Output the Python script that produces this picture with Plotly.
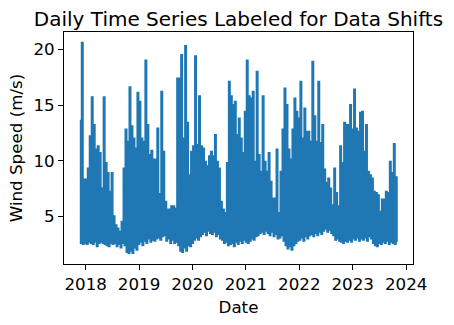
import pandas as pd
import plotly.graph_objects as go

# Per-block (about 13.6 days each) upper and lower readings of the daily wind speed
block_high = [13.6, 20.6, 8.3, 8.3, 9.3, 12.2, 15.7, 13.2, 11.0, 11.3,
              10.7, 7.5, 15.7, 9.8, 8.9, 7.2, 8.9, 5.0, 4.2, 3.9,
              3.6, 4.5, 9.3, 12.8, 11.7, 16.6, 13.1, 12.0, 11.1, 16.1,
              15.3, 12.0, 11.7, 19.0, 13.2, 10.5, 10.9, 10.1, 10.1, 12.9,
              7.0, 16.2, 10.8, 6.3, 5.6, 5.6, 5.9, 5.9, 5.7, 17.4,
              17.4, 19.5, 12.0, 20.3, 13.4, 8.7, 10.8, 11.3, 19.4, 11.4,
              15.8, 11.3, 11.1, 9.9, 9.5, 10.4, 10.8, 10.4, 12.3, 9.9,
              9.3, 6.3, 5.6, 5.3, 9.8, 17.1, 15.8, 15.0, 15.3, 12.3,
              13.8, 12.0, 10.7, 14.4, 19.0, 15.8, 15.6, 16.2, 9.9, 18.0,
              10.5, 9.0, 15.8, 9.9, 9.0, 10.7, 8.1, 6.6, 6.6, 11.0,
              5.3, 9.0, 12.8, 16.5, 15.0, 11.0, 10.1, 12.8, 15.6, 14.4,
              13.8, 17.1, 12.0, 14.7, 12.6, 12.6, 11.7, 18.9, 14.0, 11.7,
              17.1, 11.6, 13.2, 9.2, 8.0, 8.4, 7.5, 6.0, 9.3, 7.1,
              5.9, 11.3, 9.8, 13.4, 13.2, 13.2, 15.0, 12.8, 16.4, 12.9,
              12.6, 14.3, 14.4, 10.8, 13.2, 9.0, 8.7, 8.4, 7.2, 7.1,
              6.9, 5.4, 6.5, 6.5, 7.2, 7.1, 9.9, 8.9, 11.5, 8.5]

block_low = [2.6, 2.5, 2.6, 2.5, 2.7, 2.6, 2.5, 2.7, 2.3, 2.6, 2.7, 2.6, 2.5, 2.4, 2.3,
             2.6, 2.5, 2.6, 2.3, 2.5, 2.2, 2.6,
             2.4, 1.8, 1.7, 1.9, 1.7, 2.2, 2.0,
             2.5, 2.7, 2.4, 2.8, 2.6, 3.0, 2.7, 2.9, 2.8,
             3.0, 3.1, 2.9, 3.2, 3.3, 2.8, 3.0, 2.6, 2.9, 2.6, 2.7,
             2.4, 1.9, 1.8, 2.2, 1.9, 2.4,
             2.3, 2.6, 2.9, 3.1, 2.9, 3.2,
             3.4, 3.6, 3.3, 3.7, 3.5, 3.4, 3.6, 3.2, 3.4, 3.0,
             2.9, 2.6, 2.7, 2.4, 2.5, 2.6, 2.3, 2.7, 2.5, 2.8, 2.6, 2.9, 2.7,
             2.6, 2.8, 3.0, 2.9, 3.2, 3.3, 3.5,
             3.6, 3.4, 3.7, 3.5, 3.3, 3.6, 3.2, 3.4, 3.0, 3.1, 3.3,
             2.8, 2.4, 2.1, 2.3, 2.0, 2.4, 2.6, 2.8,
             2.9, 3.1, 2.8, 3.2, 3.0, 3.3, 3.4, 3.2, 3.5, 3.3, 3.6, 3.4,
             3.7, 3.9, 3.6, 3.8, 3.5, 3.3, 2.9, 3.0, 2.8,
             2.7, 2.6, 2.8, 2.7, 2.9, 2.7, 3.0,
             2.9, 3.1, 2.8, 3.0, 2.9, 3.1, 2.8, 3.2, 3.0,
             2.6, 2.4, 2.3, 2.6, 2.5,
             2.7, 2.6, 2.8, 2.5, 2.7, 2.6, 2.5, 2.7]

start_date = "2017-11-22"
end_date = "2023-10-29"
x_tick_labels = ["2018", "2019", "2020", "2021", "2022", "2023", "2024"]
y_tick_values = [5, 10, 15, 20]

values = []
for h, l in zip(block_high, block_low):
    values.extend([h, l])
dates = pd.date_range(start_date, end_date, periods=len(values))

fig = go.Figure()
fig.add_trace(go.Scatter(x=dates, y=values, mode="lines",
                         line=dict(color="#1f77b4", width=2, shape="hv"),
                         showlegend=False))

font = "DejaVu Sans"
fig.update_layout(
    width=454, height=325,
    margin=dict(l=64, r=41, t=32, b=61),
    paper_bgcolor="white", plot_bgcolor="white",
    font=dict(family=font, size=16.7, color="black"),
    title=dict(text="Daily Time Series Labeled for Data Shifts",
               font=dict(family=font, size=20, color="black"),
               x=0.5, xref="paper", xanchor="center",
               y=1, yref="paper", yanchor="bottom", pad=dict(b=6)),
)
fig.update_xaxes(
    range=["2017-08-06", "2024-02-17"],
    tickvals=[f"{t}-01-01" for t in x_tick_labels], ticktext=x_tick_labels,
    ticks="outside", ticklen=5, tickwidth=1, tickcolor="black",
    showline=True, linecolor="black", linewidth=1, mirror=True,
    showgrid=False, zeroline=False,
    title=dict(text="Date", font=dict(family=font, size=16.7), standoff=8),
)
fig.update_yaxes(
    range=[0.71, 21.57],
    tickvals=y_tick_values, ticktext=[str(v) for v in y_tick_values],
    ticks="outside", ticklen=5, tickwidth=1, tickcolor="black",
    showline=True, linecolor="black", linewidth=1, mirror=True,
    showgrid=False, zeroline=False,
    title=dict(text="Wind Speed (m/s)", font=dict(family=font, size=16.7), standoff=6),
)

fig.write_html("out.html")
